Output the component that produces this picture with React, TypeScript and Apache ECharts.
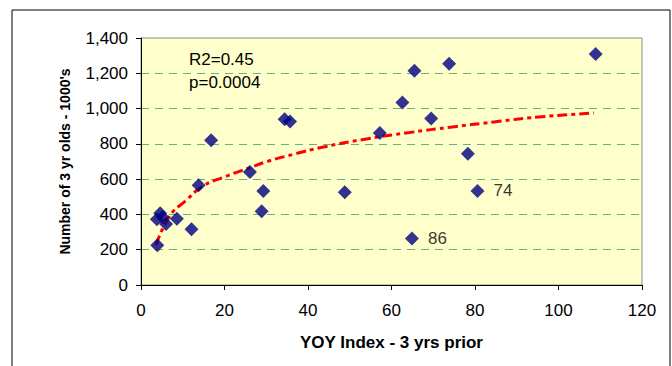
import React, { useEffect, useRef } from "react";
import * as echarts from "echarts";

const yoyIndex = [3.9, 3.8, 4.6, 5.1, 6.0, 8.6, 12.1, 13.8, 16.8, 26.1, 29.3, 28.9, 34.4, 35.7, 48.8, 57.2, 62.6, 65.5, 64.9, 69.5, 73.8, 78.3, 80.6, 108.9];
const threeYrOlds = [225, 372, 406, 385, 346, 376, 316, 566, 821, 641, 533, 418, 940, 927, 526, 861, 1035, 1215, 263, 944, 1254, 744, 533, 1309];
const pointLabels = ["", "", "", "", "", "", "", "", "", "", "", "", "", "", "", "", "", "", "86", "", "", "", "74", ""];

const trendX = [3.6, 7, 10.6, 14.8, 19.9, 26.1, 30.2, 36.4, 43.7, 54, 64.3, 74.6, 84.9, 95.2, 108.5];
const trendY = [227, 395, 475, 560, 612, 665, 700, 740, 782, 828, 864, 896, 925, 952, 975];

const yTicks = [0, 200, 400, 600, 800, 1000, 1200, 1400];
const xTicks = [0, 20, 40, 60, 80, 100, 120];

const statsText = ["R2=0.45", "p=0.0004"];

export default function App() {
  const ref = useRef<HTMLDivElement>(null);
  useEffect(() => {
    const chart = echarts.init(ref.current!, null, { renderer: "svg" });
    const font = "Liberation Sans, Arial, sans-serif";
    chart.setOption({
      animation: false,
      backgroundColor: "#ffffff",
      textStyle: { fontFamily: font },
      grid: {
        left: 141,
        right: 30,
        top: 38,
        bottom: 81,
        show: true,
        backgroundColor: "#FFFFCC",
        borderColor: "#8c8c8c",
        borderWidth: 1,
      },
      xAxis: {
        type: "value",
        min: xTicks[0],
        max: xTicks[xTicks.length - 1],
        interval: 20,
        name: "YOY Index - 3 yrs prior",
        nameLocation: "middle",
        nameGap: 49,
        nameTextStyle: { fontFamily: font, fontSize: 17, fontWeight: "bold", color: "#000" },
        axisLine: { show: true, onZero: false, lineStyle: { color: "#000", width: 1 } },
        axisTick: { show: true, inside: false, length: 5, lineStyle: { color: "#000" } },
        axisLabel: { fontFamily: font, fontSize: 17, color: "#000", margin: 17 },
        splitLine: { show: false },
      },
      yAxis: {
        type: "value",
        min: yTicks[0],
        max: yTicks[yTicks.length - 1],
        interval: 200,
        name: "Number of 3 yr olds - 1000's",
        nameLocation: "middle",
        nameGap: 69,
        nameTextStyle: { fontFamily: font, fontSize: 14, fontWeight: "bold", color: "#000" },
        axisLine: { show: true, onZero: false, lineStyle: { color: "#000", width: 1 } },
        axisTick: { show: true, inside: false, length: 5, lineStyle: { color: "#000" } },
        axisLabel: {
          fontFamily: font,
          fontSize: 17,
          color: "#000",
          margin: 13,
          formatter: (v: number) => v.toLocaleString("en-US"),
        },
        splitLine: {
          show: true,
          lineStyle: { color: "#62b47c", type: [8, 6], width: 1 },
          showMinLine: false,
          showMaxLine: false,
        },
      },
      graphic: [
        {
          type: "rect",
          shape: { x: 12, y: 10, width: 658, height: 400 },
          style: { fill: "none", stroke: "#000", lineWidth: 1 },
          silent: true,
          z: 100,
        },
        {
          type: "text",
          left: 189,
          top: 51,
          style: { text: statsText[0], fontFamily: font, fontSize: 17, fill: "#000" },
        },
        {
          type: "text",
          left: 189,
          top: 74,
          style: { text: statsText[1], fontFamily: font, fontSize: 17, fill: "#000" },
        },
      ],
      series: [
        {
          type: "line",
          data: trendX.map((x, i) => [x, trendY[i]]),
          smooth: true,
          showSymbol: false,
          symbol: "none",
          lineStyle: { color: "#ff0000", width: 3, type: [10, 4, 4, 4] },
          z: 2,
        },
        {
          type: "scatter",
          symbol: "diamond",
          symbolSize: 14,
          itemStyle: { color: "#000080" },
          data: yoyIndex.map((x, i) => ({
            value: [x, threeYrOlds[i]],
            label: {
              show: pointLabels[i] !== "",
              formatter: pointLabels[i],
              position: "right",
              distance: 9,
              fontFamily: font,
              fontSize: 17,
              color: "#000",
            },
          })),
          z: 3,
        },
      ],
    });
    return () => chart.dispose();
  }, []);
  return (
    <div
      ref={ref}
      style={{ position: "fixed", left: 0, top: 0, width: 672, height: 366 }}
    />
  );
}
